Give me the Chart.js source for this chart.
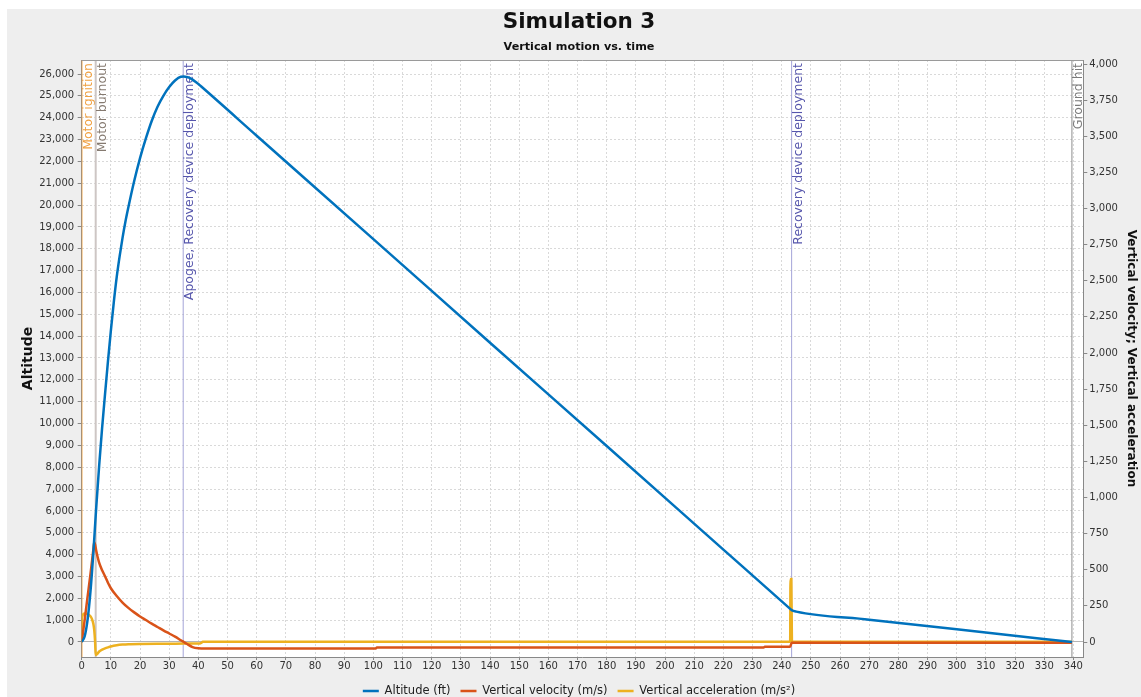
<!DOCTYPE html>
<html><head><meta charset="utf-8">
<script src="https://cdn.jsdelivr.net/npm/chart.js@4.4.1/dist/chart.umd.min.js"></script>
<style>html,body{margin:0;padding:0;background:#fff;}canvas{display:block;}</style>
</head><body>
<canvas id="c" width="1141" height="697"></canvas>
<script>
// ---- data ----
const seriesNames = ['Altitude (ft)', 'Vertical velocity (m/s)', 'Vertical acceleration (m/s\u00B2)'];

const altTime = [0, 1, 2, 3, 4, 4.5, 5, 6, 7, 8, 9, 10, 11, 12, 13, 14, 15, 16, 18, 20, 22, 24, 26, 28, 30, 32, 34, 35, 36, 37, 38, 39, 40, 41, 60, 100, 140, 180, 220, 243.0, 243.4, 245, 270, 300, 339.5];
const altFt   = [0, 250, 1000, 2300, 4100, 5150, 6200, 8100, 9800, 11350, 12850, 14250, 15550, 16700, 17650, 18500, 19250, 19900, 21100, 22150, 23050, 23850, 24500, 25000, 25400, 25700, 25870, 25880, 25865, 25820, 25745, 25650, 25540, 25425, 23175, 18440, 13700, 8970, 4230, 1507, 1460, 1390, 1020, 580, 0];

const velTime = [0, 1, 2, 3, 4, 4.3, 4.6, 5, 5.5, 6, 7, 8, 9, 10, 12, 14, 16, 18, 20, 22, 24, 26, 28, 30, 32, 34, 35, 36, 38, 40, 41, 100.8, 101.2, 233.8, 234.2, 242.9, 243.4, 339.5];
const velMs   = [0, 150, 310, 470, 640, 690, 675, 630, 585, 548, 497, 455, 410, 372, 318, 273, 236, 205, 177, 152, 127, 104, 81, 59, 37, 12, 0, -12, -35, -44, -45, -45, -38, -38, -33, -33, -5, -5];

const accTime = [0, 0.1, 1, 2, 3, 3.5, 4, 4.3, 4.6, 4.8, 5.2, 6, 7, 8, 9, 10, 12, 14, 16, 20, 30, 35, 40, 41, 41.5, 242.9, 243.0, 243.3, 243.5, 339.5];
const accMs2  = [0, 170, 198, 195, 178, 160, 125, 83, 0, -90, -85, -66, -53, -44, -37, -31, -23, -18, -15, -13, -12, -11, -11, -6, 1, 1, 436, 436, 3, 1];

const timeTicks = [0, 10, 20, 30, 40, 50, 60, 70, 80, 90, 100, 110, 120, 130, 140, 150, 160, 170, 180, 190, 200, 210, 220, 230, 240, 250, 260, 270, 280, 290, 300, 310, 320, 330, 340];
const altitudeTicks = [0, 1000, 2000, 3000, 4000, 5000, 6000, 7000, 8000, 9000, 10000, 11000, 12000, 13000, 14000, 15000, 16000, 17000, 18000, 19000, 20000, 21000, 22000, 23000, 24000, 25000, 26000];
const rightTicks = [0, 250, 500, 750, 1000, 1250, 1500, 1750, 2000, 2250, 2500, 2750, 3000, 3250, 3500, 3750, 4000];

const eventTimes = [0, 4.8, 34.8, 243.4, 339.5];
const eventNames = ['Motor ignition', 'Motor burnout', 'Apogee, Recovery device deployment', 'Recovery device deployment', 'Ground hit'];

// ---- styles ----
const eventStyles = [
  {line: '#f2a444', text: '#f0a040', width: 1.5},
  {line: '#cdc6c4', text: '#857a70', width: 2},
  {line: '#a4a4d8', text: '#5656ac', width: 1},
  {line: '#a4a4d8', text: '#5656ac', width: 1},
  {line: '#8c8c8c', text: '#7a7a7a', width: 1}
];
const colors = ['#0072BD', '#D95319', '#EDB120'];

Chart.defaults.font.family = "'DejaVu Sans', sans-serif";

const pts = (ts, vs) => ts.map((t, i) => ({x: t, y: vs[i]}));

const bgPlugin = {
  id: 'bg',
  beforeDraw(chart) {
    const {ctx, chartArea: a} = chart;
    ctx.save();
    ctx.fillStyle = '#ffffff';
    ctx.fillRect(0, 0, chart.width, chart.height);
    ctx.fillStyle = '#eeeeee';
    ctx.fillRect(7, 9, chart.width - 7, chart.height - 9);
    ctx.fillStyle = '#ffffff';
    ctx.fillRect(a.left, a.top, a.right - a.left, a.bottom - a.top);
    ctx.restore();
  },
  afterDraw(chart) {
    const {ctx, chartArea: a} = chart;
    ctx.save();
    ctx.strokeStyle = '#9a9a9a';
    ctx.lineWidth = 1;
    ctx.beginPath();
    ctx.moveTo(a.left, a.top + 0.5);
    ctx.lineTo(a.right, a.top + 0.5);
    ctx.stroke();
    ctx.restore();
  }
};

const eventPlugin = {
  id: 'events',
  beforeDatasetsDraw(chart) {
    const {ctx, chartArea: a} = chart;
    const xs = chart.scales.x;
    ctx.save();
    ctx.beginPath();
    ctx.rect(a.left, a.top, a.right - a.left, a.bottom - a.top);
    ctx.clip();
    eventTimes.forEach((t, i) => {
      const st = eventStyles[i];
      const x = xs.getPixelForValue(t);
      ctx.strokeStyle = st.line;
      ctx.lineWidth = st.width;
      ctx.beginPath();
      ctx.moveTo(x, a.top);
      ctx.lineTo(x, a.bottom);
      ctx.stroke();
      ctx.save();
      ctx.translate(x + 7, a.top + 3);
      ctx.rotate(-Math.PI / 2);
      ctx.font = "12.5px 'DejaVu Sans', sans-serif";
      ctx.fillStyle = st.text;
      ctx.textAlign = 'right';
      ctx.textBaseline = 'middle';
      ctx.fillText(eventNames[i], 0, 0);
      ctx.restore();
    });
    ctx.restore();
  }
};

const gridColor = '#d9d9d9';
const tickFont = {size: 10};

new Chart(document.getElementById('c'), {
  type: 'line',
  data: {
    datasets: [
      {label: seriesNames[0], data: pts(altTime, altFt), yAxisID: 'y', borderColor: colors[0], backgroundColor: colors[0], borderWidth: 2.5, pointRadius: 0, cubicInterpolationMode: 'monotone', fill: false},
      {label: seriesNames[1], data: pts(velTime, velMs), yAxisID: 'y2', borderColor: colors[1], backgroundColor: colors[1], borderWidth: 2.5, pointRadius: 0, cubicInterpolationMode: 'monotone', fill: false},
      {label: seriesNames[2], data: pts(accTime, accMs2), yAxisID: 'y2', borderColor: colors[2], backgroundColor: colors[2], borderWidth: 2.5, pointRadius: 0, cubicInterpolationMode: 'monotone', fill: false}
    ]
  },
  options: {
    responsive: false,
    animation: false,
    devicePixelRatio: 1,
    layout: {padding: {left: 17, right: 0, top: 0, bottom: 0}},
    scales: {
      x: {
        type: 'linear', min: 0, max: 343.4,
        afterBuildTicks: s => { s.ticks = timeTicks.map(v => ({value: v})); },
        afterFit: s => { s.height = 18.25; },
        ticks: {font: tickFont, color: '#333', padding: 0, maxRotation: 0, autoSkip: false, callback: v => String(v)},
        grid: {color: gridColor, lineWidth: 1, tickLength: 3, tickColor: '#888', tickBorderDash: []},
        border: {display: true, color: '#888', dash: [2, 2]}
      },
      y: {
        type: 'linear', position: 'left', min: -687, max: 26641,
        afterBuildTicks: s => { s.ticks = altitudeTicks.map(v => ({value: v})); },
        afterFit: s => { s.width = 64.7; },
        ticks: {font: tickFont, color: '#333', padding: 3.5, callback: v => Number(v).toLocaleString('en-US')},
        grid: {color: c => (c.tick && c.tick.value === 0) ? '#b4b4b4' : gridColor, tickLength: 4, tickColor: '#888', tickBorderDash: []},
        border: {display: true, color: '#888', dash: c => (c.tick && c.tick.value === 0) ? [] : [2, 2]},
        title: {display: true, text: 'Altitude', color: '#111', font: {size: 14, weight: 'bold'}, padding: {top: 2.6, bottom: 0}}
      },
      y2: {
        type: 'linear', position: 'right', min: -103.8, max: 4027.7,
        afterBuildTicks: s => { s.ticks = rightTicks.map(v => ({value: v})); },
        afterFit: s => { s.width = 57.7; },
        ticks: {font: tickFont, color: '#333', padding: 2, callback: v => Number(v).toLocaleString('en-US')},
        grid: {drawOnChartArea: false, tickLength: 4, tickColor: '#888', tickBorderDash: []},
        border: {display: true, color: '#888'},
        title: {display: true, text: 'Vertical velocity; Vertical acceleration', color: '#111', font: {size: 12, weight: 'bold'}, padding: {top: 2.8, bottom: 0}}
      }
    },
    plugins: {
      title: {display: true, text: 'Simulation 3', color: '#111', font: {size: 21.5, weight: 'bold'}, padding: {top: 10, bottom: 0}},
      subtitle: {display: true, text: 'Vertical motion vs. time', color: '#111', font: {size: 11.2, weight: 'bold'}, padding: {top: 5, bottom: 5.76}},
      legend: {
        position: 'bottom', maxHeight: 21.75,
        labels: {usePointStyle: true, pointStyle: 'line', pointStyleWidth: 16, font: {size: 11.5}, color: '#222', padding: 10}
      },
      tooltip: {enabled: false}
    }
  },
  plugins: [bgPlugin, eventPlugin]
});
</script>
</body></html>
